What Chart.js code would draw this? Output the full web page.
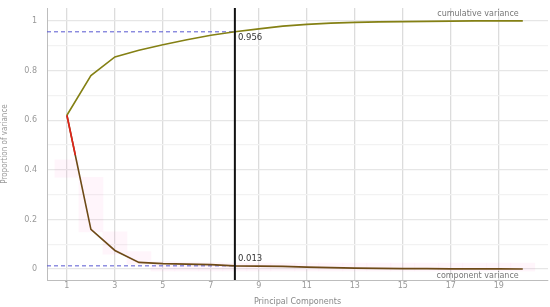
<!DOCTYPE html>
<html>
<head>
<meta charset="utf-8">
<script src="https://cdn.jsdelivr.net/npm/chart.js@4"></script>
<style>
  html, body { margin: 0; padding: 0; background: #fff; }
  #wrap { width: 550px; height: 307px; }
</style>
</head>
<body>
<div id="wrap"><canvas id="pca"></canvas></div>
<script>
// ================= DATA =================
const components = [1, 2, 3, 4, 5, 6, 7, 8, 9, 10, 11, 12, 13, 14, 15, 16, 17, 18, 19, 20];
const componentVar = [0.62, 0.16, 0.075, 0.027, 0.022, 0.02, 0.018, 0.013, 0.012, 0.011,
                      0.008, 0.006, 0.004, 0.003, 0.002, 0.002, 0.001, 0.001, 0.001, 0.0005];
const cumulativeVar = [0.62, 0.78, 0.855, 0.882, 0.904, 0.924, 0.942, 0.956, 0.968, 0.979,
                       0.986, 0.991, 0.994, 0.996, 0.997, 0.998, 0.999, 1.0, 1.0, 1.0];
// faint pink band around the component curve [low, high]
const bandLow  = [0.37, 0.15, 0.06, 0.02, -0.008, -0.008, -0.008, -0.008, -0.008, -0.008,
                  -0.008, -0.008, -0.008, -0.008, -0.008, -0.008, -0.008, -0.008, -0.008, -0.008];
const bandHigh = [0.44, 0.37, 0.15, 0.07, 0.03, 0.028, 0.026, 0.024, 0.024, 0.024,
                  0.024, 0.024, 0.024, 0.024, 0.024, 0.024, 0.024, 0.024, 0.024, 0.024];
const redStart = [{ x: 1, y: 0.62 }, { x: 1.35, y: 0.459 }];
const xTicks = [1, 3, 5, 7, 9, 11, 13, 15, 17, 19];
const yTicks = [0, 0.1, 0.2, 0.3, 0.4, 0.5, 0.6, 0.7, 0.8, 0.9, 1];
const cutComponent = 8;
const cutCumulative = 0.956;
const cutComponentVar = 0.013;
const xMin = 0.17, xMax = 21.05, yMin = -0.044, yMax = 1.052;

// ================= PLUGIN =================
const markers = {
  id: "markers",
  afterDatasetsDraw(chart) {
    const { ctx, scales: { x, y }, chartArea } = chart;
    const px = x.getPixelForValue(cutComponent);
    ctx.save();
    ctx.strokeStyle = "#111";
    ctx.lineWidth = 2;
    ctx.beginPath();
    ctx.moveTo(px, chartArea.top);
    ctx.lineTo(px, chartArea.bottom);
    ctx.stroke();

    ctx.fillStyle = "#333";
    ctx.font = "8.5px 'DejaVu Sans'";
    ctx.textAlign = "left";
    ctx.textBaseline = "middle";
    ctx.fillText(cutCumulative.toFixed(3), px + 3, y.getPixelForValue(cutCumulative) + 6);
    ctx.fillText(cutComponentVar.toFixed(3), px + 3, y.getPixelForValue(cutComponentVar) - 7);

    ctx.fillStyle = "#777";
    ctx.font = "8px 'DejaVu Sans'";
    ctx.textAlign = "right";
    ctx.fillText("cumulative variance", x.getPixelForValue(19.83), y.getPixelForValue(1) - 7);
    ctx.fillText("component variance", x.getPixelForValue(19.83), y.getPixelForValue(0) + 7);
    ctx.restore();
  }
};

// ================= CHART =================
new Chart(document.getElementById("pca"), {
  type: "line",
  data: {
    datasets: [
      {
        type: "bar",
        data: components.map((c, i) => ({ x: c, y: [bandLow[i], bandHigh[i]] })),
        backgroundColor: "rgba(255,120,200,0.07)",
        borderWidth: 0,
        barPercentage: 1,
        categoryPercentage: 1,
        order: 5
      },
      {
        data: [{ x: xMin, y: cutCumulative }, { x: cutComponent, y: cutCumulative }],
        borderColor: "#5656d0",
        borderWidth: 1,
        borderDash: [4, 3],
        pointRadius: 0,
        order: 4
      },
      {
        data: [{ x: xMin, y: cutComponentVar }, { x: cutComponent, y: cutComponentVar }],
        borderColor: "#5656d0",
        borderWidth: 1,
        borderDash: [4, 3],
        pointRadius: 0,
        order: 4
      },
      {
        data: components.map((c, i) => ({ x: c, y: cumulativeVar[i] })),
        borderColor: "#848014",
        borderWidth: 1.6,
        pointRadius: 0,
        tension: 0,
        order: 2
      },
      {
        data: components.map((c, i) => ({ x: c, y: componentVar[i] })),
        borderColor: "#6e4a17",
        borderWidth: 1.6,
        pointRadius: 0,
        tension: 0,
        order: 1
      },
      {
        data: redStart,
        borderColor: "#e3241b",
        borderWidth: 1.6,
        pointRadius: 0,
        order: 0
      }
    ]
  },
  plugins: [markers],
  options: {
    responsive: true,
    maintainAspectRatio: false,
    animation: false,
    layout: { padding: { top: 8, right: 2, left: 0, bottom: 0 } },
    plugins: {
      legend: { display: false },
      tooltip: { enabled: false }
    },
    scales: {
      x: {
        type: "linear",
        min: xMin,
        max: xMax,
        offset: false,
        afterBuildTicks: s => { s.ticks = xTicks.map(v => ({ value: v })); },
        afterFit: s => { s.height = 27; s.paddingLeft = 0; s.paddingRight = 0; },
        ticks: {
          color: "#999",
          font: { family: "DejaVu Sans", size: 8 },
          padding: 1,
          maxRotation: 0,
          autoSkip: false
        },
        grid: { color: "#dcdcdc", lineWidth: 1.3, drawTicks: false, offset: false },
        border: { color: "#bdbdbd", width: 1 },
        title: {
          display: true,
          text: "Principal Components",
          color: "#888",
          font: { family: "DejaVu Sans", size: 8 },
          padding: { top: 4, bottom: 0 }
        }
      },
      y: {
        min: yMin,
        max: yMax,
        afterBuildTicks: s => { s.ticks = yTicks.map(v => ({ value: v })); },
        afterFit: s => { s.width = 47; s.paddingTop = 0; s.paddingBottom = 0; },
        ticks: {
          color: "#999",
          font: { family: "DejaVu Sans", size: 8 },
          padding: 10,
          callback: v => (Math.round(v * 10) % 2 === 0 ? String(Math.round(v * 10) / 10) : "")
        },
        grid: {
          color: ctx => (Math.round(ctx.tick.value * 10) % 2 === 0 ? "#e6e6e6" : "#f2f2f2"),
          lineWidth: 1.2,
          drawTicks: false
        },
        border: { color: "#bdbdbd", width: 1 },
        title: {
          display: true,
          text: "Proportion of variance",
          color: "#999",
          font: { family: "Liberation Sans Narrow, DejaVu Sans Condensed", size: 8 },
          padding: { top: 0, bottom: 0 }
        }
      }
    }
  }
});
</script>
</body>
</html>
